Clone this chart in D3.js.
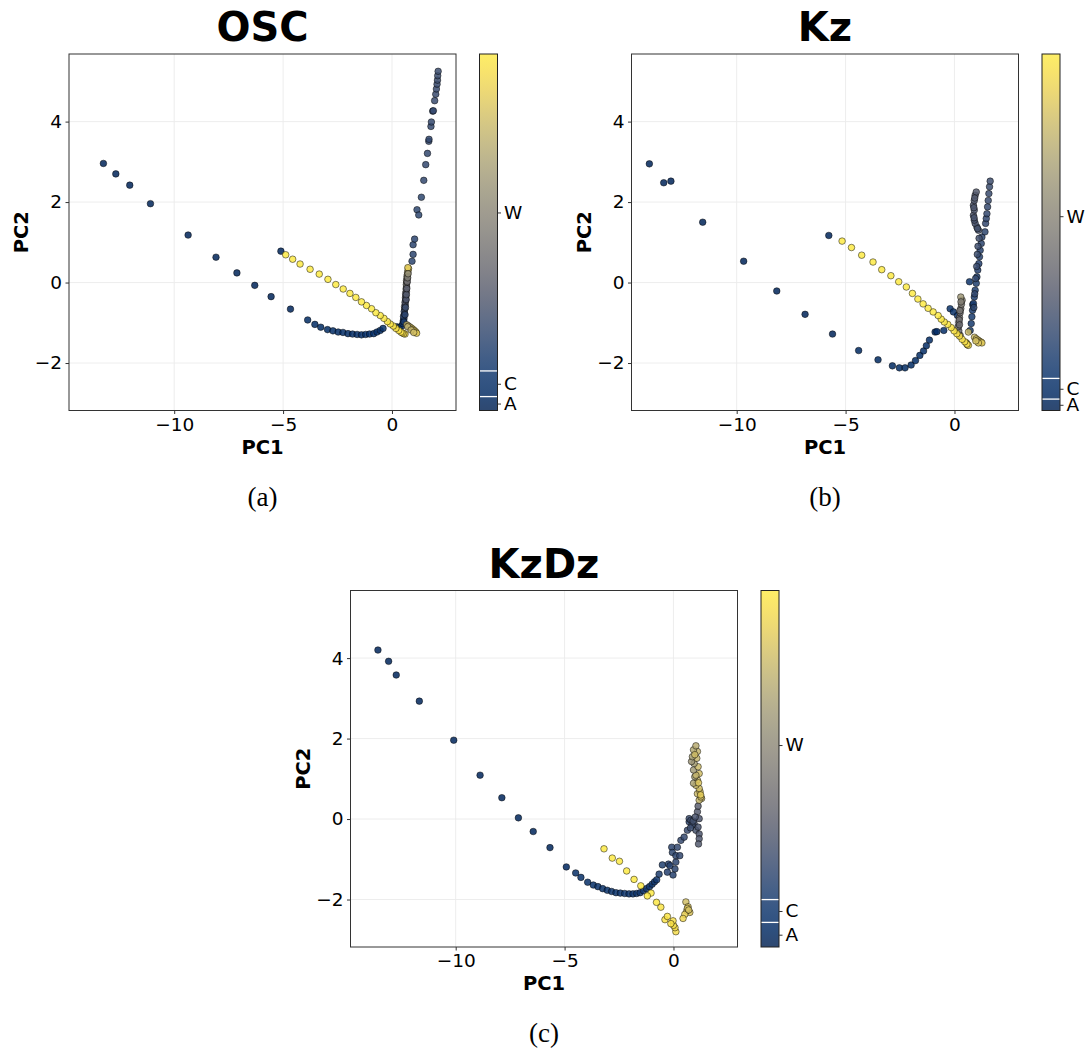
<!DOCTYPE html>
<html>
<head>
<meta charset="utf-8">
<script src="https://cdn.jsdelivr.net/npm/d3@7"></script>
<style>
  body { margin: 0; background: #fff; }
  svg text { font-family: "DejaVu Sans", sans-serif; fill: #000; }
</style>
</head>
<body>
<div id="chart"></div>
<script>
// ---- data : [PC1, PC2, colour value 0..1]
var xTicks = [-10, -5, 0];
var yTicks = [-2, 0, 2, 4];
var xDomain = [-14.83, 2.94];
var yDomain = [-3.18, 5.68];
var phaseLabels = ["A", "C", "W"];
var titles = ["OSC", "Kz", "KzDz"];
var captions = ["(a)", "(b)", "(c)"];

// boundaries between the phases on each colour bar
var oscBounds = [0.039, 0.111];
var kzBounds = [0.032, 0.09];
var kzdzBounds = [0.069, 0.133];

var oscPoints = [
  [-13.25,2.96,0.02],[-12.68,2.70,0.02],[-12.04,2.42,0.02],[-11.09,1.96,0.02],[-9.36,1.18,0.02],
  [-8.08,0.63,0.02],[-7.12,0.24,0.02],[-6.30,-0.07,0.02],[-5.55,-0.35,0.02],[-4.66,-0.66,0.03],[-5.10,0.78,0.03],
  [-3.87,-0.93,0.06],[-3.54,-1.04,0.06],[-3.27,-1.11,0.06],[-2.96,-1.17,0.06],[-2.71,-1.20,0.07],[-2.47,-1.23,0.07],
  [-2.25,-1.24,0.07],[-2.02,-1.27,0.07],[-1.81,-1.28,0.07],[-1.60,-1.29,0.07],[-1.40,-1.30,0.08],[-1.21,-1.29,0.08],
  [-1.03,-1.28,0.08],[-0.84,-1.27,0.08],[-0.69,-1.23,0.08],[-0.54,-1.19,0.09],[-0.41,-1.14,0.09],[0.23,-1.10,0.1],[0.33,-1.12,0.1],
  [0.92,0.53,0.2],[0.97,0.70,0.2],[0.97,0.94,0.2],[1.04,1.08,0.2],[1.15,1.81,0.21],[1.23,1.68,0.21],[1.35,2.12,0.21],
  [1.46,2.54,0.22],[1.55,2.93,0.22],[1.63,3.21,0.22],[1.69,3.51,0.22],[1.70,3.56,0.22],[1.79,3.88,0.23],[1.81,3.99,0.23],
  [1.87,4.26,0.23],[1.90,4.27,0.23],[1.96,4.52,0.24],[2.01,4.68,0.24],[2.04,4.81,0.24],[2.07,4.93,0.24],[2.09,5.03,0.25],
  [2.10,5.14,0.25],[2.12,5.25,0.25],
  [0.45,-1.08,0.10],[0.50,-1.02,0.12],[0.52,-0.95,0.14],[0.55,-0.90,0.18],[0.53,-0.84,0.20],[0.57,-0.78,0.22],
  [0.56,-0.72,0.25],[0.59,-0.66,0.27],[0.58,-0.60,0.30],[0.61,-0.55,0.28],[0.60,-0.49,0.33],[0.63,-0.44,0.31],
  [0.62,-0.38,0.35],[0.64,-0.33,0.38],[0.63,-0.27,0.36],[0.66,-0.22,0.40],[0.65,-0.16,0.43],[0.67,-0.11,0.45],
  [0.66,-0.05,0.48],[0.68,0.00,0.50],[0.67,0.05,0.53],[0.70,0.10,0.56],[0.69,0.15,0.62],[0.71,0.20,0.68],
  [0.72,0.25,0.74],[0.74,0.30,0.8],[0.76,0.35,0.85],[0.73,0.37,0.88],
  [0.55,-0.98,0.15],[0.60,-0.80,0.2],[0.62,-0.62,0.25],[0.65,-0.42,0.3],[0.66,-0.30,0.32],[0.68,-0.15,0.35],
  [0.70,0.02,0.42],[0.72,0.12,0.5],[0.74,0.22,0.6],
  [0.68,-1.05,0.8],[0.76,-1.08,0.82],[0.84,-1.11,0.84],[0.91,-1.14,0.85],[0.98,-1.17,0.86],[1.04,-1.20,0.87],
  [1.10,-1.23,0.88],[1.13,-1.26,0.9],[0.72,-1.10,0.75],[0.88,-1.18,0.78],[1.0,-1.24,0.82],
  [0.60,-1.28,0.95],[0.54,-1.27,0.95],[0.47,-1.25,0.96],[0.41,-1.23,0.96],[0.31,-1.19,0.97],[0.18,-1.14,0.97],[0.06,-1.08,0.98],
  [-0.08,-1.03,0.98],[-0.21,-0.97,0.99],[-0.37,-0.89,0.99],[-0.54,-0.82,1.0],[-0.74,-0.75,1.0],[-0.94,-0.65,1.0],
  [-1.17,-0.57,1.0],[-1.40,-0.48,1.0],[-1.66,-0.37,1.0],[-1.93,-0.27,1.0],[-2.24,-0.16,1.0],[-2.58,-0.05,1.0],
  [-2.94,0.08,1.0],[-3.34,0.21,1.0],[-3.76,0.33,1.0],[-4.22,0.46,1.0],[-4.56,0.58,1.0],[-4.88,0.69,1.0]
];

var kzPoints = [
  [-14.01,2.95,0.02],[-13.35,2.48,0.02],[-13.02,2.52,0.02],[-11.56,1.50,0.02],[-9.68,0.53,0.02],[-8.16,-0.21,0.02],
  [-6.86,-0.79,0.02],[-5.60,-1.28,0.02],[-5.77,1.17,0.03],
  [-4.40,-1.69,0.05],[-3.51,-1.92,0.05],[-2.85,-2.07,0.05],[-2.53,-2.12,0.06],[-2.27,-2.12,0.06],[-1.99,-2.05,0.06],
  [-1.79,-1.94,0.06],[-1.59,-1.81,0.07],[-1.42,-1.70,0.07],[-1.29,-1.57,0.07],[-1.15,-1.43,0.07],[-0.89,-1.23,0.08],
  [-0.81,-1.22,0.08],[-0.49,-1.19,0.08],
  [-0.20,-0.65,0.1],[-0.05,-0.73,0.1],[0.14,-0.82,0.11],[0.69,0.02,0.11],[0.84,-0.55,0.12],
  [0.72,-1.19,0.14],[0.77,-1.02,0.14],[0.80,-0.85,0.15],[0.83,-0.69,0.15],[0.87,-0.52,0.15],[0.91,-0.36,0.16],
  [0.95,-0.19,0.16],[1.00,-0.02,0.17],[1.03,0.14,0.17],[1.07,0.31,0.18],[1.12,0.47,0.18],[1.15,0.64,0.19],
  [1.18,0.80,0.19],[1.23,0.97,0.2],[1.26,1.13,0.2],[1.40,1.26,0.21],[1.43,1.47,0.22],[1.46,1.59,0.22],
  [1.49,1.71,0.23],[1.52,1.88,0.23],[1.55,2.04,0.24],[1.58,2.21,0.24],[1.61,2.38,0.25],[1.64,2.52,0.26],
  [1.10,1.30,0.28],[1.03,1.38,0.28],[0.95,1.47,0.29],[0.91,1.55,0.29],[0.87,1.67,0.3],[0.91,1.80,0.3],
  [0.87,1.92,0.31],[0.91,2.04,0.31],[0.95,2.17,0.32],[1.00,2.25,0.33],[0.93,2.10,0.32],[0.89,1.86,0.3],
  [0.90,1.61,0.29],[1.06,1.34,0.28],[1.13,1.10,0.27],[1.08,0.90,0.26],[1.05,0.70,0.25],[1.02,0.40,0.24],
  [0.97,0.10,0.23],[0.93,-0.28,0.22],[0.89,-0.62,0.21],
  [0.26,-1.31,0.42],[0.20,-1.20,0.4],[0.17,-1.10,0.4],[0.20,-0.99,0.42],[0.23,-0.87,0.45],[0.26,-0.75,0.45],
  [0.29,-0.65,0.48],[0.32,-0.54,0.5],[0.35,-0.44,0.55],[0.29,-0.36,0.65],[0.22,-0.93,0.43],[0.25,-0.70,0.46],
  [0.30,-0.48,0.52],[0.23,-1.05,0.41],
  [0.64,-1.23,0.8],[0.92,-1.36,0.82],[1.00,-1.40,0.83],[1.08,-1.43,0.84],[1.15,-1.46,0.85],[1.22,-1.48,0.86],
  [1.26,-1.50,0.88],[1.10,-1.50,0.86],[0.98,-1.45,0.84],[0.55,-1.50,0.8],[0.60,-1.55,0.82],
  [0.64,-1.56,0.95],[0.57,-1.53,0.95],[0.47,-1.47,0.96],[0.35,-1.41,0.96],[0.23,-1.33,0.97],[0.11,-1.27,0.97],
  [-0.02,-1.20,0.98],[-0.15,-1.12,0.98],[-0.31,-1.04,0.99],[-0.47,-0.98,0.99],[-0.61,-0.91,1.0],[-0.75,-0.82,1.0],
  [-0.98,-0.73,1.0],[-1.21,-0.64,1.0],[-1.44,-0.53,1.0],[-1.68,-0.41,1.0],[-1.93,-0.27,1.0],[-2.21,-0.11,1.0],
  [-2.56,0.02,1.0],[-2.92,0.17,1.0],[-3.34,0.32,1.0],[-3.74,0.51,1.0],[-4.26,0.68,1.0],[-4.73,0.87,1.0],[-5.16,1.03,1.0]
];

var kzdzPoints = [
  [-13.57,4.20,0.03],[-13.08,3.92,0.03],[-12.73,3.58,0.03],[-11.67,2.93,0.03],[-10.09,1.96,0.03],[-8.88,1.09,0.03],
  [-7.88,0.53,0.03],[-7.12,0.03,0.03],[-6.44,-0.31,0.03],[-5.67,-0.71,0.03],[-4.92,-1.19,0.04],
  [-4.49,-1.34,0.09],[-4.25,-1.45,0.09],[-3.94,-1.57,0.09],[-3.68,-1.64,0.09],[-3.47,-1.68,0.1],[-3.25,-1.73,0.1],
  [-3.04,-1.77,0.1],[-2.84,-1.80,0.1],[-2.64,-1.83,0.1],[-2.44,-1.84,0.11],[-2.24,-1.85,0.11],[-2.04,-1.86,0.11],
  [-1.86,-1.86,0.11],[-1.69,-1.85,0.11],[-1.53,-1.83,0.12],[-1.38,-1.78,0.12],[-1.24,-1.73,0.12],[-1.10,-1.68,0.12],
  [-0.98,-1.62,0.12],[-0.87,-1.56,0.13],[-0.77,-1.51,0.13],
  [-0.66,-1.37,0.16],[-0.51,-1.14,0.17],[-0.28,-1.32,0.18],[-0.23,-1.12,0.18],[-0.16,-1.16,0.19],[-0.02,-1.39,0.19],
  [0.07,-1.24,0.2],[0.11,-1.07,0.2],[-0.08,-0.70,0.2],[-0.05,-0.83,0.21],[0.11,-0.91,0.21],[0.29,-0.91,0.22],
  [0.18,-0.70,0.22],[0.34,-0.53,0.23],[0.49,-0.45,0.23],[0.64,-0.28,0.24],[0.72,-0.07,0.2],[0.72,0.01,0.25],
  [0.80,-0.03,0.26],[0.95,-0.12,0.27],[1.03,-0.28,0.28],[1.13,-0.20,0.29],[1.18,0.01,0.3],[1.18,-0.37,0.3],
  [1.18,-0.49,0.31],[1.15,-0.62,0.32],[1.10,0.18,0.33],[1.13,0.32,0.35],[0.85,-0.15,0.26],[0.90,-0.05,0.27],
  [1.00,0.05,0.29],[0.78,-0.22,0.25],
  [1.29,0.51,0.8],[1.18,0.47,0.78],[1.26,0.55,0.82],[1.10,0.63,0.8],[1.22,0.68,0.84],[1.18,0.76,0.82],
  [1.10,0.97,0.78],[1.03,0.84,0.8],[0.92,0.89,0.7],[1.18,1.13,0.82],[0.98,1.05,0.68],[1.03,1.09,0.78],
  [0.92,1.22,0.66],[1.13,1.30,0.8],[0.95,1.38,0.68],[0.83,1.43,0.64],[1.07,1.51,0.78],[0.87,1.55,0.68],
  [1.10,1.68,0.78],[0.92,1.72,0.72],[1.03,1.82,0.74],[0.98,1.60,0.82],[1.15,0.90,0.86],[1.25,0.60,0.88],
  [0.57,-2.06,0.82],[0.67,-2.18,0.86],[0.75,-2.32,0.86],[0.61,-2.28,0.88],[0.52,-2.37,0.9],[0.44,-2.47,0.92],
  [0.64,-2.22,0.86],[0.70,-2.26,0.84],
  [0.11,-2.80,0.95],[0.07,-2.70,0.95],[0.00,-2.64,0.96],[-0.02,-2.53,0.96],[-0.12,-2.60,0.97],[-0.39,-2.50,0.97],
  [-0.28,-2.42,0.98],[-0.58,-2.19,0.98],[-0.78,-2.07,0.99],[-1.03,-1.84,1.0],[-1.20,-1.91,1.0],[-1.50,-1.66,1.0],
  [-1.81,-1.50,1.0],[-2.15,-1.29,1.0],[-2.48,-1.05,1.0],[-2.81,-0.97,1.0],[-3.19,-0.74,1.0]
];

// ---- layout
var plotW = 387, plotH = 356.5;
var panels = [
  { pts: oscPoints, title: titles[0], caption: captions[0], bounds: oscBounds, left: 69, top: 54 },
  { pts: kzPoints, title: titles[1], caption: captions[1], bounds: kzBounds, left: 631.5, top: 54 },
  { pts: kzdzPoints, title: titles[2], caption: captions[2], bounds: kzdzBounds, left: 350.5, top: 590.5 }
];

var svg = d3.select("#chart").append("svg")
  .attr("width", 1088)
  .attr("height", 1048);

var fmt = function(d){ return d < 0 ? "\u2212" + Math.abs(d) : String(d); };

// colour bar gradient (shared)
var defs = svg.append("defs");
var grad = defs.append("linearGradient")
  .attr("id", "cbar")
  .attr("x1", 0).attr("y1", 1).attr("x2", 0).attr("y2", 0);
d3.range(0, 1.0001, 0.05).forEach(function(t){
  grad.append("stop").attr("offset", t).attr("stop-color", d3.interpolateCividis(t));
});

panels.forEach(function(p){
  var g = svg.append("g").attr("transform", "translate(" + p.left + "," + p.top + ")");
  var x = d3.scaleLinear().domain(xDomain).range([0, plotW]);
  var y = d3.scaleLinear().domain(yDomain).range([plotH, 0]);

  // grid
  g.selectAll(".gx").data(xTicks).enter().append("line")
    .attr("x1", x).attr("x2", x).attr("y1", 0).attr("y2", plotH)
    .attr("stroke", "#ebebeb").attr("stroke-width", 0.9);
  g.selectAll(".gy").data(yTicks).enter().append("line")
    .attr("y1", y).attr("y2", y).attr("x1", 0).attr("x2", plotW)
    .attr("stroke", "#ebebeb").attr("stroke-width", 0.9);

  // points
  g.selectAll("circle").data(p.pts).enter().append("circle")
    .attr("cx", function(d){ return x(d[0]); })
    .attr("cy", function(d){ return y(d[1]); })
    .attr("r", 3.3)
    .attr("fill", function(d){ return d3.interpolateCividis(d[2]); })
    .attr("fill-opacity", 0.85)
    .attr("stroke", "#000")
    .attr("stroke-opacity", 0.8)
    .attr("stroke-width", 0.6);

  // axes
  var ax = g.append("g").attr("transform", "translate(0," + plotH + ")")
    .call(d3.axisBottom(x).tickValues(xTicks).tickFormat(fmt).tickSize(3.5).tickPadding(3.5));
  var ay = g.append("g")
    .call(d3.axisLeft(y).tickValues(yTicks).tickFormat(fmt).tickSize(3.5).tickPadding(3.5));
  [ax, ay].forEach(function(a){
    a.select(".domain").remove();
    a.selectAll("line").attr("stroke", "#333");
    a.selectAll("text").attr("font-size", 18.5).attr("font-family", "DejaVu Sans").attr("fill", "#000");
  });

  g.append("rect").attr("width", plotW).attr("height", plotH)
    .attr("fill", "none").attr("stroke", "#333").attr("stroke-width", 1);

  // labels
  g.append("text").text(p.title)
    .attr("x", plotW / 2).attr("y", -13)
    .attr("text-anchor", "middle").attr("font-size", 40).attr("font-weight", "bold");
  g.append("text").text("PC1")
    .attr("x", plotW / 2).attr("y", plotH + 43)
    .attr("text-anchor", "middle").attr("font-size", 19.5).attr("font-weight", "bold");
  g.append("text").text("PC2")
    .attr("transform", "translate(-41," + (plotH / 2) + ") rotate(-90)")
    .attr("text-anchor", "middle").attr("font-size", 19.5).attr("font-weight", "bold");
  g.append("text").text(p.caption)
    .attr("x", plotW / 2).attr("y", plotH + 95)
    .attr("text-anchor", "middle").attr("font-size", 27)
    .style("font-family", "'Liberation Serif', 'DejaVu Serif', serif");

  // colour bar
  var cb = g.append("g").attr("transform", "translate(" + (plotW + 23.5) + ",0)");
  var c = d3.scaleLinear().domain([0, 1]).range([plotH, 0]);
  cb.append("rect").attr("width", 18).attr("height", plotH)
    .attr("fill", "url(#cbar)").attr("fill-opacity", 0.82);
  cb.selectAll(".bnd").data(p.bounds).enter().append("line")
    .attr("x1", 0).attr("x2", 18).attr("y1", c).attr("y2", c)
    .attr("stroke", "#fff").attr("stroke-width", 1.3);
  cb.append("rect").attr("width", 18).attr("height", plotH)
    .attr("fill", "none").attr("stroke", "#222").attr("stroke-width", 1);
  var mids = [p.bounds[0] / 2, (p.bounds[0] + p.bounds[1]) / 2, (p.bounds[1] + 1) / 2];
  var ac = cb.append("g").attr("transform", "translate(18,0)")
    .call(d3.axisRight(c).tickValues(mids).tickFormat(function(d, i){ return phaseLabels[i]; })
      .tickSize(3.5).tickPadding(3));
  ac.select(".domain").remove();
  ac.selectAll("line").attr("stroke", "#333");
  ac.selectAll("text").attr("font-size", 18.5).attr("font-family", "DejaVu Sans").attr("fill", "#000");
});
</script>
</body>
</html>
